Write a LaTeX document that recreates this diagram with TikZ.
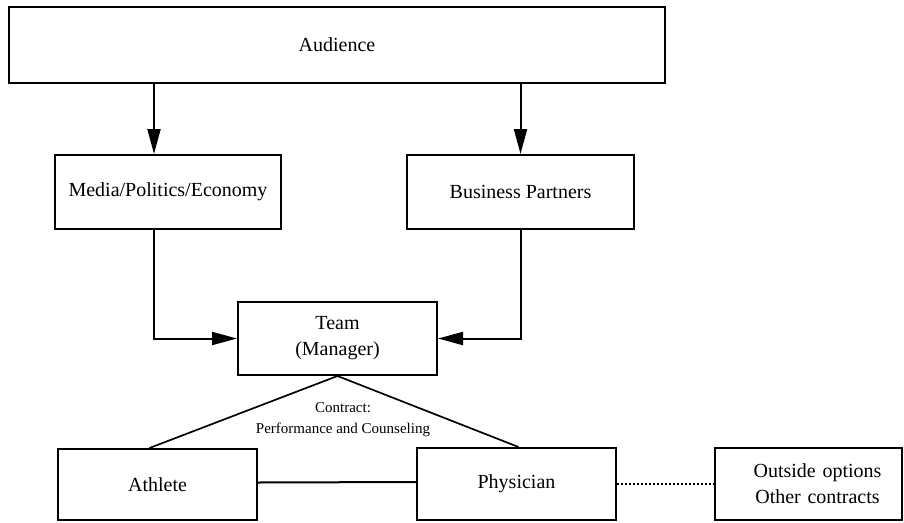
\documentclass[tikz,border=0pt]{standalone}
\usepackage{fontspec}
\setmainfont{Liberation Serif}
\usetikzlibrary{arrows.meta}

\begin{document}
\begin{tikzpicture}[x=1pt,y=-1pt,
    box/.style={draw=black,line width=2pt,inner sep=0pt,align=center,font=\fontsize{20}{26}\selectfont}]
\useasboundingbox (0,0) rectangle (904,522);
%\tikzstyle{small}=[font=\small]
\begin{scope}
    \node[box,minimum width=656pt,minimum height=76pt] (aud) at (337,45) {Audience};
    \node[box,minimum width=226pt,minimum height=74pt] (med) at (168,192) {Media/Politics/Economy};
    \node[box,minimum width=227pt,minimum height=74pt] (bus) at (520.5,192) {Business Partners};
    \node[box,minimum width=199pt,minimum height=73pt] (team) at (337.5,338.5) {Team\\(Manager)};
    \node[box,minimum width=199pt,minimum height=71pt] (ath) at (157.5,484.5) {Athlete};
    \node[box,minimum width=199pt,minimum height=72pt] (phy) at (516.5,484) {Physician};
    \node[box,minimum width=187pt,minimum height=72pt,text width=187pt,align=center] (out) at (808.5,484) {\hspace*{18pt}Outside options\\\hspace*{18pt}Other contracts};
    \node[align=center,font=\fontsize{15}{21}\selectfont] (con) at (343,420) {Contract:\\Performance and Counseling};
\end{scope}

\begin{scope}[>={Triangle[length=25pt,width=13pt]},every edge/.style={draw=black,line width=2pt}]
    \path [->] ([xshift=-14pt]med.north |- aud.south) edge ([xshift=-14pt]med.north);
    \path [->] (bus.north |- aud.south) edge (bus.north);
    \draw [->,line width=2pt] ([xshift=-14pt]med.south) |- (team.west);
    \draw [->,line width=2pt] (bus.south) |- (team.east);

    \path [-] (team.south) edge[line width=1.7pt] ([xshift=-8pt]ath.north);
    \path [-] (team.south) edge[line width=1.7pt] ([xshift=2pt]phy.north);
    \path [-] ([yshift=2pt]ath.east) edge ([yshift=2pt]phy.west);
    \path [-] (phy.east) edge[line width=1.5pt,dash pattern=on 1.5pt off 2.5pt] (out.west);
\end{scope}
\end{tikzpicture}
\end{document}
